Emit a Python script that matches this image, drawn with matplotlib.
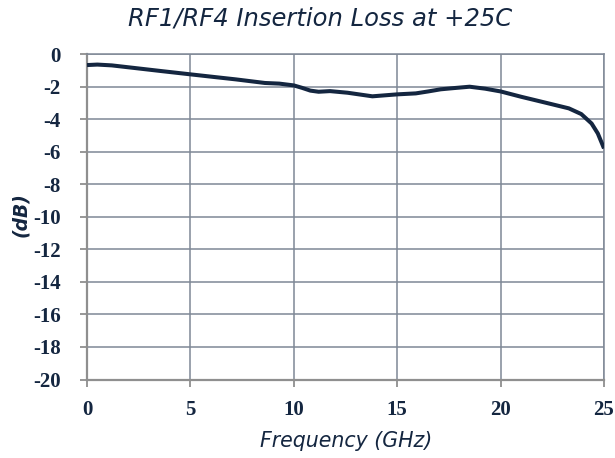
import matplotlib.pyplot as plt

plt.rcParams['axes.unicode_minus'] = False

# frequency (GHz) and insertion loss (dB)
freq = [0, 0.5, 1.2, 2.3, 3.6, 5.0, 6.2, 7.2, 8.6, 9.3, 10.0, 10.4, 10.8, 11.2,
        11.75, 12.6, 13.8, 15.0, 15.9, 16.5, 17.1, 17.6, 18.5, 19.25, 20.0,
        21.0, 22.3, 23.3, 23.9, 24.4, 24.7, 25.0]
loss = [-0.68, -0.65, -0.7, -0.86, -1.05, -1.25, -1.42, -1.56, -1.78, -1.82,
        -1.93, -2.08, -2.25, -2.32, -2.28, -2.38, -2.6, -2.48, -2.42, -2.3,
        -2.17, -2.11, -2.01, -2.13, -2.3, -2.63, -3.03, -3.34, -3.69, -4.27,
        -4.88, -5.8]

xticks = [0, 5, 10, 15, 20, 25]
yticks = list(range(-20, 1, 2))

navy = '#142640'
grid_c = '#7f8896'
spine_c = '#8f8f8f'

fig = plt.figure(figsize=(6.15, 4.58), dpi=100, facecolor='white')
ax = fig.add_axes([87/615, 1 - 379.5/458, 517/615, 325.5/458])

ax.plot(freq, loss, color=navy, lw=2.9, solid_joinstyle='round', solid_capstyle='butt', zorder=3)

ax.set_xlim(0, 25)
ax.set_ylim(-20, 0)
ax.set_xticks(xticks)
ax.set_yticks(yticks)
ax.grid(True, color=grid_c, lw=1.1)
ax.set_axisbelow(True)

for side in ['top', 'right']:
    ax.spines[side].set_color(grid_c)
    ax.spines[side].set_linewidth(1.1)
for side in ['left', 'bottom']:
    ax.spines[side].set_color(spine_c)
    ax.spines[side].set_linewidth(1.6)

ax.tick_params(axis='both', direction='out', length=5, width=1.3, color=spine_c,
               labelcolor=navy, labelsize=15)
ax.tick_params(axis='x', pad=10)
ax.tick_params(axis='y', pad=14)
for lab in ax.get_xticklabels() + ax.get_yticklabels():
    lab.set_fontfamily('Liberation Serif')
    lab.set_fontweight('bold')

fig.text(320/615, 1 - 18/458, 'RF1/RF4 Insertion Loss at +25C', ha='center', va='center',
         fontsize=17.5, style='italic', color=navy, family='DejaVu Sans')
fig.text(346/615, 1 - 441/458, 'Frequency (GHz)', ha='center', va='center',
         fontsize=14.8, style='italic', color=navy, family='DejaVu Sans')
fig.text(21/615, 1 - 215/458, '(dB)', ha='center', va='center', rotation=90,
         fontsize=13.5, style='italic', fontweight='bold', color=navy, family='DejaVu Sans')

fig.savefig('out.png', dpi=100, facecolor='white')
